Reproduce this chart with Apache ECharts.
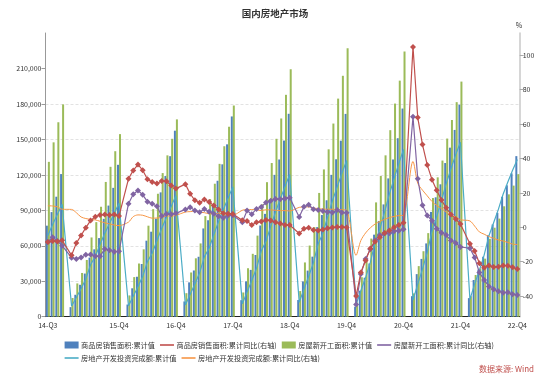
<!DOCTYPE html>
<html>
<head>
<meta charset="utf-8">
<script src="https://cdn.jsdelivr.net/npm/echarts@6/dist/echarts.min.js"></script>
<style>
  html, body { margin: 0; padding: 0; background: #fff; }
  #chart { width: 550px; height: 376px; }
</style>
</head>
<body>
<div id="chart"></div>
<script>
// monthly, Sep 2014 - Dec 2022 (no January release -> null)
const months = [
  '2014-09','2014-10','2014-11','2014-12',
  '2015-01','2015-02','2015-03','2015-04','2015-05','2015-06','2015-07','2015-08','2015-09','2015-10','2015-11','2015-12',
  '2016-01','2016-02','2016-03','2016-04','2016-05','2016-06','2016-07','2016-08','2016-09','2016-10','2016-11','2016-12',
  '2017-01','2017-02','2017-03','2017-04','2017-05','2017-06','2017-07','2017-08','2017-09','2017-10','2017-11','2017-12',
  '2018-01','2018-02','2018-03','2018-04','2018-05','2018-06','2018-07','2018-08','2018-09','2018-10','2018-11','2018-12',
  '2019-01','2019-02','2019-03','2019-04','2019-05','2019-06','2019-07','2019-08','2019-09','2019-10','2019-11','2019-12',
  '2020-01','2020-02','2020-03','2020-04','2020-05','2020-06','2020-07','2020-08','2020-09','2020-10','2020-11','2020-12',
  '2021-01','2021-02','2021-03','2021-04','2021-05','2021-06','2021-07','2021-08','2021-09','2021-10','2021-11','2021-12',
  '2022-01','2022-02','2022-03','2022-04','2022-05','2022-06','2022-07','2022-08','2022-09','2022-10','2022-11','2022-12'
];

// x axis: labelled ticks
const tickLabels = {
  '2014-09': '14-Q3', '2014-12': '', '2015-12': '15-Q4', '2016-12': '16-Q4', '2017-12': '17-Q4',
  '2018-12': '18-Q4', '2019-12': '19-Q4', '2020-12': '20-Q4', '2021-12': '21-Q4', '2022-12': '22-Q4'
};

// 商品房销售面积:累计值 (万平方米)
const salesArea = [
  77000, 88500, 101500, 120649,
  null, 8095, 18542, 27000, 36500, 50006, 57000, 66500, 82800, 94000, 109000, 128495,
  null, 10298, 24040, 33800, 44600, 64302, 71900, 82900, 105185, 119000, 135800, 157349,
  null, 12900, 29035, 39100, 50700, 74662, 81600, 93900, 115000, 128900, 145800, 169408,
  null, 14000, 29900, 39600, 52200, 77143, 87000, 99000, 120000, 133000, 149000, 171654,
  null, 14100, 29829, 39000, 50800, 75786, 86000, 98500, 120000, 133200, 148900, 171558,
  null, 8475, 21978, 33000, 45000, 69404, 81000, 95000, 117000, 133000, 151000, 176086,
  null, 17363, 36007, 48900, 62000, 88635, 101000, 112000, 130000, 143000, 158000, 179433,
  null, 15703, 31046, 39768, 50738, 68923, 78000, 87890, 101422, 111179, 121250, 135837
];

// 商品房销售面积:累计同比 (%)
const salesYoY = [
  -8.6, -8.0, -8.2, -7.6,
  null, -16.3, -9.2, -4.8, -0.2, 3.9, 6.1, 7.2, 7.5, 7.2, 7.4, 6.5,
  null, 28.2, 33.1, 36.5, 33.2, 27.9, 26.4, 25.5, 26.9, 26.8, 24.3, 22.5,
  null, 25.1, 19.5, 15.7, 14.3, 16.1, 14.7, 12.7, 10.3, 8.2, 7.9, 7.7,
  null, 4.1, 3.6, 1.3, 2.9, 3.3, 4.2, 4.0, 2.9, 2.2, 1.4, 1.3,
  null, -3.6, -0.9, -0.3, -1.6, -1.8, -1.3, -0.6, -0.1, 0.1, 0.2, -0.1,
  null, -39.9, -26.3, -19.3, -12.3, -8.4, -5.8, -3.3, -1.8, 0.0, 1.3, 2.6,
  null, 104.9, 63.8, 48.1, 36.3, 27.7, 21.5, 15.9, 11.3, 7.5, 4.8, 1.9,
  null, -9.6, -13.8, -20.9, -23.6, -22.2, -23.1, -23.0, -22.2, -22.3, -23.3, -24.3
];

// 房屋新开工面积:累计值 (万平方米)
const newStartArea = [
  131000, 147500, 164500, 179592,
  null, 15826, 28164, 37000, 48000, 67034, 80000, 93000, 114000, 126800, 140000, 154454,
  null, 18000, 33500, 45000, 57000, 77000, 91000, 104000, 121500, 136500, 150500, 166928,
  null, 19900, 37400, 49400, 62000, 85100, 99500, 112500, 129300, 144200, 160700, 178654,
  null, 20500, 41000, 53200, 68600, 95100, 113800, 130000, 150500, 167700, 187700, 209342,
  null, 21700, 45900, 60200, 75800, 104700, 124600, 141600, 163400, 184500, 203800, 227154,
  null, 12000, 33400, 49100, 66100, 96700, 119000, 136500, 157800, 180300, 199700, 224433,
  null, 19700, 42800, 55400, 70700, 100400, 117900, 132100, 150700, 166400, 181500, 198895,
  null, 17300, 35300, 40800, 49100, 65900, 75300, 83000, 93400, 103500, 110900, 120587
];

// 房屋新开工面积:累计同比 (%)
const newStartYoY = [
  -8.5, -5.8, -8.0, -10.7,
  null, -17.7, -18.4, -17.5, -16.0, -15.8, -16.8, -16.8, -12.6, -13.3, -14.2, -14.0,
  null, 13.7, 19.2, 21.4, 18.9, 14.9, 13.7, 12.2, 6.6, 7.7, 7.6, 8.1,
  null, 10.4, 11.6, 9.7, 8.8, 10.6, 9.1, 7.9, 6.4, 5.6, 6.8, 7.0,
  null, 2.9, 9.7, 7.6, 10.7, 11.8, 14.4, 15.5, 16.4, 16.3, 16.8, 17.2,
  null, 6.0, 11.9, 13.1, 10.5, 10.1, 9.5, 8.9, 8.6, 10.0, 8.6, 8.5,
  null, -44.9, -27.2, -18.4, -12.8, -7.6, -4.5, -3.6, -3.4, -2.3, -2.0, -1.2,
  null, 64.3, 28.2, 12.8, 6.9, 3.8, -0.9, -3.2, -4.5, -7.7, -9.1, -11.4,
  null, -12.2, -17.5, -26.3, -30.6, -34.4, -36.1, -37.2, -38.0, -37.8, -38.9, -39.4
];

// 房地产开发投资完成额:累计值 (亿元)
const investAmount = [
  68751, 78000, 86400, 95036,
  null, 8786, 16214, 23669, 31900, 43955, 51000, 61000, 70535, 78800, 87600, 95979,
  null, 9050, 17220, 25370, 34140, 46630, 53700, 64300, 74600, 84000, 93300, 102581,
  null, 9860, 18790, 27730, 37140, 50590, 57940, 69400, 80640, 90540, 100300, 109799,
  null, 10830, 20740, 30590, 40930, 55530, 63850, 76400, 88620, 99330, 110030, 120264,
  null, 12090, 23190, 34230, 45520, 61610, 70620, 84400, 98010, 109600, 121270, 132194,
  null, 10115, 21960, 33100, 45920, 62780, 74120, 88450, 103480, 116560, 129490, 141443,
  null, 13986, 27576, 40240, 54318, 72179, 84895, 98060, 112559, 124934, 137086, 147602,
  null, 14499, 27765, 39154, 52134, 68314, 79462, 90809, 103559, 113945, 123863, 132895
];

// 房地产开发投资完成额:累计同比 (%)
const investYoY = [
  12.5, 12.4, 11.9, 10.5,
  null, 10.4, 8.5, 6.0, 5.1, 4.6, 4.3, 3.5, 2.6, 2.0, 1.3, 1.0,
  null, 3.0, 6.2, 7.2, 7.0, 6.1, 5.3, 5.4, 5.8, 6.6, 6.5, 6.9,
  null, 8.9, 9.1, 9.3, 8.8, 8.5, 7.9, 7.9, 8.1, 7.8, 7.5, 7.0,
  null, 9.9, 10.4, 10.3, 10.2, 9.7, 10.2, 10.1, 9.9, 9.7, 9.7, 9.5,
  null, 11.6, 11.8, 11.9, 11.2, 10.9, 10.6, 10.5, 10.5, 10.3, 10.2, 9.9,
  null, -16.3, -7.7, -3.3, -0.3, 1.9, 3.4, 4.6, 5.6, 6.3, 6.8, 7.0,
  null, 38.3, 25.6, 21.6, 18.3, 15.0, 12.7, 10.9, 8.8, 7.2, 6.0, 4.4,
  null, 3.7, 0.7, -2.7, -4.0, -5.4, -6.4, -7.4, -8.0, -8.8, -9.8, -10.0
];

const leftTicks = [0, 30000, 60000, 90000, 120000, 150000, 180000, 210000];
const rightTicks = [-40, -20, 0, 20, 40, 60, 80, 100];

const FONT = '"Noto Sans CJK SC", "Noto Sans", sans-serif';
const lineIcon = 'path://M0,0L14,0L14,1.6L0,1.6Z';

const chart = echarts.init(document.getElementById('chart'), null, { renderer: 'canvas' });

const yoyLine = (name, data, color) => ({
  name,
  type: 'line',
  yAxisIndex: 1,
  data,
  connectNulls: true,
  symbol: 'diamond',
  symbolSize: 6,
  showSymbol: true,
  showAllSymbol: true,
  itemStyle: { color },
  lineStyle: { color, width: 1.2 },
  z: 4
});

const option = {
  animation: false,
  textStyle: { fontFamily: FONT },
  title: {
    text: '国内房地产市场',
    left: 'center',
    top: 4,
    textStyle: { fontSize: 9.5, fontWeight: 'bold', color: '#333', fontFamily: FONT }
  },
  grid: { left: 45.5, right: 30.3, top: 33, bottom: 59.3, containLabel: false },
  legend: {
    left: 59.6,
    top: 336,
    width: 440,
    itemWidth: 14,
    itemHeight: 7,
    itemGap: 5,
    symbolKeepAspect: true,
    textStyle: { fontSize: 7.2, color: '#333', padding: [0, 0, 0, -2.5], lineHeight: 8 },
    data: [
      { name: '商品房销售面积:累计值', icon: 'rect' },
      { name: '商品房销售面积:累计同比(右轴)', icon: lineIcon },
      { name: '房屋新开工面积:累计值', icon: 'rect' },
      { name: '房屋新开工面积:累计同比(右轴)', icon: lineIcon },
      { name: '房地产开发投资完成额:累计值', icon: lineIcon },
      { name: '房地产开发投资完成额:累计同比(右轴)', icon: lineIcon }
    ]
  },
  graphic: [{
    type: 'text',
    right: 16,
    top: 365,
    style: { text: '数据来源: Wind', fontSize: 8, fill: '#c0504d', fontFamily: FONT }
  }],
  xAxis: [{
    type: 'category',
    data: months,
    boundaryGap: true,
    axisLine: { lineStyle: { color: '#222', width: 1 } },
    axisTick: {
      alignWithLabel: true,
      length: 4,
      interval: (i, v) => v in tickLabels,
      lineStyle: { color: '#444' }
    },
    axisLabel: {
      interval: (i, v) => !!tickLabels[v],
      formatter: v => tickLabels[v] || '',
      fontSize: 7,
      color: '#333',
      margin: 5
    },
    splitLine: { show: false }
  }, {
    // small monthly ticks along the base line
    type: 'category',
    data: months,
    position: 'bottom',
    boundaryGap: true,
    axisLine: { show: false },
    axisTick: { alignWithLabel: true, length: 1.5, interval: 0, lineStyle: { color: '#222' } },
    axisLabel: { show: false },
    splitLine: { show: false }
  }],
  yAxis: [{
    type: 'value',
    position: 'left',
    min: 0,
    max: 240000,
    interval: 30000,
    axisLine: { show: true, lineStyle: { color: '#999' } },
    axisTick: { show: true, length: 4, lineStyle: { color: '#999' }, customValues: leftTicks },
    axisLabel: {
      customValues: leftTicks,
      fontSize: 7,
      color: '#333',
      margin: 4,
      formatter: v => v.toLocaleString('en-US')
    },
    splitLine: { show: true, showMaxLine: false, lineStyle: { color: '#e2e2e2', type: [3, 2] } }
  }, {
    type: 'value',
    position: 'right',
    min: -52,
    max: 113,
    name: '%',
    nameLocation: 'end',
    nameGap: 4,
    nameTextStyle: { fontSize: 7, color: '#333', align: 'left', padding: [0, 0, 0, -4] },
    axisLine: { show: true, lineStyle: { color: '#c8c8c8', width: 1.5 } },
    axisTick: { show: true, length: 4, lineStyle: { color: '#aaa' }, customValues: rightTicks },
    axisLabel: { customValues: rightTicks, fontSize: 7, color: '#333', margin: 3 },
    splitLine: { show: false }
  }],
  series: [{
    name: '商品房销售面积:累计值',
    type: 'bar',
    data: salesArea,
    barWidth: 2,
    barGap: '0%',
    itemStyle: { color: '#4f81bd' },
    z: 2
  }, {
    name: '房屋新开工面积:累计值',
    type: 'bar',
    data: newStartArea,
    barWidth: 2,
    barGap: '0%',
    itemStyle: { color: '#9bbb59' },
    z: 2
  }, {
    name: '房地产开发投资完成额:累计值',
    type: 'line',
    data: investAmount,
    connectNulls: true,
    showSymbol: false,
    itemStyle: { color: '#4bacc6' },
    lineStyle: { color: '#4bacc6', width: 1.2 },
    z: 3
  }, {
    name: '房地产开发投资完成额:累计同比(右轴)',
    type: 'line',
    yAxisIndex: 1,
    data: investYoY,
    connectNulls: true,
    showSymbol: false,
    smooth: 0.3,
    itemStyle: { color: '#f79646' },
    lineStyle: { color: '#f79646', width: 1 },
    z: 3
  },
  yoyLine('房屋新开工面积:累计同比(右轴)', newStartYoY, '#8064a2'),
  yoyLine('商品房销售面积:累计同比(右轴)', salesYoY, '#c0504d')
  ]
};

chart.setOption(option);
</script>
</body>
</html>
